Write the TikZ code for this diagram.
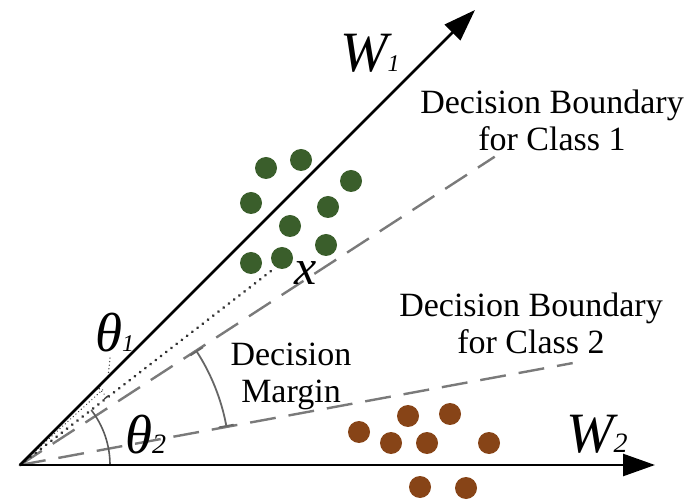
\documentclass[tikz,border=0pt]{standalone}
\usepackage{fontspec}
\setmainfont{Liberation Serif}
\usetikzlibrary{arrows.meta}
\definecolor{gdot}{HTML}{3A5E2B}
\definecolor{bdot}{HTML}{874417}
\definecolor{dashgray}{HTML}{7A7A7A}
\tikzset{
  axisline/.style={line width=2.6pt, -{Triangle[length=32pt,width=22pt]}},
  boundary/.style={line width=2.4pt, dashgray, dash pattern=on 26pt off 13pt},
  featline/.style={line width=3pt, black!80, line cap=round, dash pattern=on 0.1pt off 6.5pt},
  fineline/.style={line width=1.4pt, black!75, line cap=round, dash pattern=on 0.1pt off 3.5pt},
  anglearc/.style={line width=1.6pt, black!65},
  marginarc/.style={line width=1.8pt, black!60, {Bar[width=15pt]}-{Bar[width=15pt]}},
  gpt/.style={circle, fill=gdot, minimum size=22pt, inner sep=0pt},
  bpt/.style={circle, fill=bdot, minimum size=22pt, inner sep=0pt},
  lbl/.style={inner sep=0pt, font=\fontsize{34}{37}\selectfont, align=center},
  mathlbl/.style={inner sep=0pt, anchor=base west}
}
\begin{document}
\begin{tikzpicture}[x=1pt,y=1pt]
\useasboundingbox (0,0) rectangle (692,500);
% key points
\coordinate (O) at (20,35);
\coordinate (W1end) at (475,490);
\coordinate (W2end) at (655,35);
\coordinate (B1end) at ([shift={(33:566)}]O);
\coordinate (B2end) at ([shift={(10.45:562)}]O);
\coordinate (X) at ([shift={(37.7:318)}]O);
\coordinate (F1end) at ([shift={(42.3:112)}]O);
% boundaries
\draw[boundary] (O) -- (B1end);
\draw[boundary] (O) -- (B2end);
% feature line and fine line
\draw[featline] (O) -- (X);
\draw[fineline] (O) -- (F1end);
% theta arcs
\draw[anglearc] ([shift={(0:90)}]O) arc[start angle=0, end angle=37.7, radius=90];
\draw[fineline, {Bar[width=6pt]}-{Bar[width=6pt]}] ([shift={(37.7:110)}]O) arc[start angle=37.7, end angle=45, radius=110];
\coordinate (T1lead) at (110,142);
\coordinate (T1foot) at (108,122);
\draw[fineline] (T1lead) -- (T1foot);
% decision margin arc
\draw[marginarc] ([shift={(33:210)}]O) arc[start angle=33, end angle=10.45, radius=210];
% axes
\draw[axisline] (O) -- (W1end);
\draw[axisline] (O) -- (W2end);
% green points
\node[gpt] (g1) at (266,332) {};
\node[gpt] (g2) at (301,340) {};
\node[gpt] (g3) at (351,319) {};
\node[gpt] (g4) at (251,297) {};
\node[gpt] (g5) at (328,293) {};
\node[gpt] (g6) at (290,274) {};
\node[gpt] (g7) at (326,255) {};
\node[gpt] (g8) at (251,237) {};
\node[gpt] (g9) at (282,242) {};
% brown points
\node[bpt] (b1) at (359,68) {};
\node[bpt] (b2) at (408,84) {};
\node[bpt] (b3) at (450,86) {};
\node[bpt] (b4) at (391,57) {};
\node[bpt] (b5) at (427,57) {};
\node[bpt] (b6) at (489,57) {};
\node[bpt] (b7) at (420,13) {};
\node[bpt] (b8) at (466,12) {};
% labels
\node[mathlbl] (w1lab) at (340,428) {{\fontsize{57}{57}\selectfont\itshape W}{\fontsize{24}{24}\selectfont\itshape 1}};
\node[mathlbl] (w2lab) at (566,48) {{\fontsize{57}{57}\selectfont\itshape W}{\fontsize{28}{28}\selectfont\itshape 2}};
\node[mathlbl] (xlab) at (294,215) {{\fontsize{50}{50}\selectfont\itshape x}};
\node[mathlbl] (t1lab) at (95,148) {{\fontsize{55}{55}\selectfont\itshape θ}{\fontsize{24}{24}\selectfont\itshape 1}};
\node[mathlbl] (t2lab) at (125,47) {{\fontsize{55}{55}\selectfont\itshape θ}{\fontsize{28}{28}\selectfont\itshape 2}};
\node[lbl] (c1lab) at (552,380) {Decision Boundary\\for Class 1};
\node[lbl] (c2lab) at (531,177) {Decision Boundary\\for Class 2};
\node[lbl] (mlab) at (291,124) {Decision\\Margin};
\end{tikzpicture}
\end{document}
